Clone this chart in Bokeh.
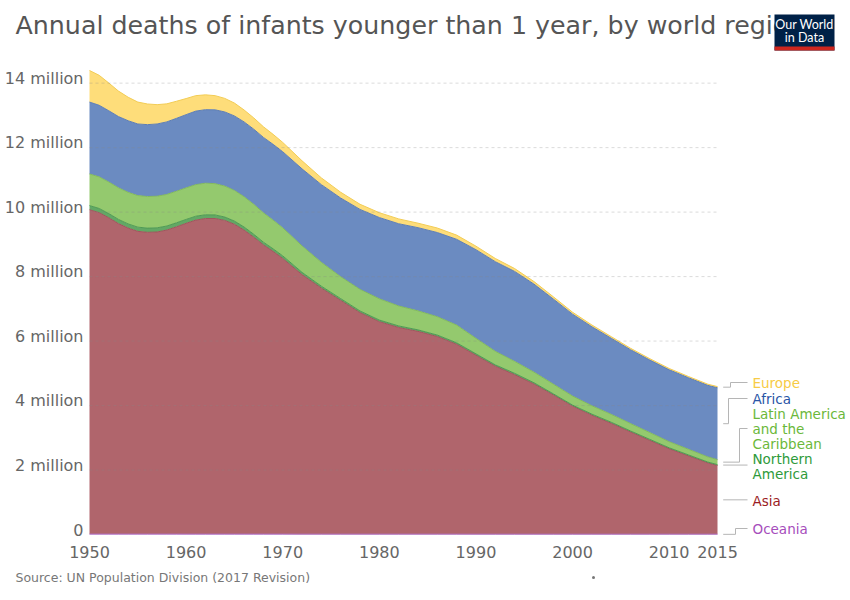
from bokeh.plotting import figure
from bokeh.models import ColumnDataSource, Range1d
from bokeh.core.properties import value
from bokeh.embed import file_html
from bokeh.resources import INLINE

# data (million infant deaths)
years = [1950, 1951, 1952, 1953, 1954, 1955, 1956, 1957, 1958, 1959, 1960,
         1961, 1962, 1963, 1964, 1965, 1966, 1967, 1968, 1969, 1970,
         1972, 1974, 1976, 1978, 1980, 1982, 1984, 1986, 1988, 1990,
         1992, 1994, 1996, 1998, 2000, 2002, 2004, 2006, 2008, 2010,
         2012, 2014, 2015]
oceania = [0.013, 0.013, 0.013, 0.013, 0.013, 0.013, 0.013, 0.013, 0.013, 0.013, 0.012,
           0.012, 0.012, 0.012, 0.012, 0.012, 0.012, 0.012, 0.012, 0.012, 0.012,
           0.011, 0.011, 0.011, 0.011, 0.011, 0.011, 0.011, 0.011, 0.011, 0.010,
           0.010, 0.010, 0.010, 0.010, 0.010, 0.010, 0.010, 0.010, 0.010, 0.010,
           0.010, 0.010, 0.010]
asia = [10.06, 9.97, 9.81, 9.63, 9.49, 9.39, 9.36, 9.37, 9.43, 9.53, 9.64,
        9.74, 9.79, 9.79, 9.73, 9.61, 9.43, 9.21, 8.97, 8.77, 8.55,
        8.05, 7.63, 7.25, 6.87, 6.59, 6.41, 6.29, 6.13, 5.89, 5.55,
        5.21, 4.95, 4.66, 4.32, 3.97, 3.69, 3.44, 3.17, 2.91, 2.65,
        2.43, 2.21, 2.13]
northern_america = [0.13, 0.13, 0.13, 0.13, 0.13, 0.13, 0.13, 0.13, 0.125, 0.125, 0.12,
                    0.12, 0.115, 0.11, 0.105, 0.10, 0.095, 0.09, 0.085, 0.08, 0.08,
                    0.07, 0.06, 0.055, 0.052, 0.05, 0.048, 0.046, 0.045, 0.045, 0.044,
                    0.042, 0.04, 0.037, 0.035, 0.034, 0.033, 0.032, 0.031, 0.03, 0.029,
                    0.028, 0.027, 0.027]
latin_america = [0.98, 0.98, 0.98, 0.98, 0.98, 0.98, 0.98, 0.98, 0.98, 0.98, 0.98,
                 0.98, 0.98, 0.97, 0.96, 0.95, 0.94, 0.93, 0.91, 0.89, 0.87,
                 0.82, 0.74, 0.68, 0.67, 0.66, 0.62, 0.59, 0.57, 0.55, 0.48,
                 0.42, 0.37, 0.33, 0.30, 0.28, 0.26, 0.245, 0.23, 0.21, 0.19,
                 0.175, 0.16, 0.155]
africa = [2.23, 2.22, 2.21, 2.21, 2.22, 2.22, 2.23, 2.24, 2.25, 2.26, 2.27,
          2.28, 2.28, 2.29, 2.30, 2.31, 2.32, 2.33, 2.34, 2.35, 2.36,
          2.39, 2.41, 2.44, 2.48, 2.52, 2.55, 2.58, 2.61, 2.66, 2.75,
          2.78, 2.79, 2.73, 2.64, 2.54, 2.45, 2.36, 2.29, 2.25, 2.23,
          2.22, 2.22, 2.23]
europe = [0.98, 0.93, 0.86, 0.79, 0.73, 0.68, 0.64, 0.60, 0.56, 0.53, 0.50,
          0.48, 0.46, 0.44, 0.42, 0.40, 0.37, 0.35, 0.33, 0.31, 0.29,
          0.25, 0.21, 0.18, 0.16, 0.15, 0.15, 0.14, 0.14, 0.13, 0.11,
          0.10, 0.09, 0.08, 0.07, 0.06, 0.055, 0.05, 0.045, 0.042, 0.04,
          0.037, 0.035, 0.035]

regions = ["oceania", "asia", "northern_america", "latin_america", "africa", "europe"]
fills = ["#C592D2", "#B0656C", "#62A865", "#94C96E", "#6B8BC1", "#FEDD7A"]
edges = ["#B070C4", "#A0545C", "#4F9A53", "#82BA5C", "#5C7DB5", "#F2CC55"]

# legend text, one entry per printed line
label_lines = ["Europe", "Africa", "Latin America", "and the", "Caribbean",
               "Northern", "America", "Asia", "Oceania"]
label_line_colors = ["#F7CB45", "#2A55A6", "#6BB83A", "#6BB83A", "#6BB83A",
                     "#2E9A3A", "#2E9A3A", "#9B1C24", "#A64DBC"]

y_ticks = [0, 2, 4, 6, 8, 10, 12, 14]
y_tick_labels = ["0", "2 million", "4 million", "6 million", "8 million",
                 "10 million", "12 million", "14 million"]
x_ticks = [1950, 1960, 1970, 1980, 1990, 2000, 2010, 2015]

title = "Annual deaths of infants younger than 1 year, by world region"
source_note = "Source: UN Population Division (2017 Revision)"

# canvas geometry in pixels: 1950 sits at x=89, 2015 at x=717, zero at y=534
W, H = 850, 600
ppy = 628 / 65.0      # pixels per year
ppm = 32.24           # pixels per million
x0 = 1950 - 89 / ppy
y_base = 534


def gx(cx):
    return x0 + cx / ppy


def gy(cy):
    return (y_base - cy) / ppm


p = figure(width=W, height=H, output_backend="svg", toolbar_location=None,
           x_range=Range1d(start=gx(0), end=gx(W)), y_range=Range1d(start=gy(H), end=gy(0)),
           min_border=0)
p.xaxis.visible = False
p.yaxis.visible = False
p.xgrid.visible = False
p.ygrid.visible = False
p.outline_line_color = None

src = ColumnDataSource(dict(year=years, oceania=oceania, asia=asia,
                            northern_america=northern_america,
                            latin_america=latin_america, africa=africa,
                            europe=europe))

p.varea_stack(stackers=regions, x="year", color=fills, source=src)
p.vline_stack(stackers=regions, x="year", color=edges, line_width=1, source=src)

# grid lines over the areas
p.multi_line(xs=[[years[0], years[-1]] for t in y_ticks[1:]],
             ys=[[t, t] for t in y_ticks[1:]],
             line_color="#888888", line_alpha=0.3, line_width=1, line_dash="3 3")

font = value("DejaVu Sans")

# y tick labels
p.text(x=[gx(83)] * len(y_ticks), y=[t + 5 / ppm for t in y_ticks], text=y_tick_labels,
       text_font=font, text_font_size="16px", text_color="#666666",
       text_align="right", text_baseline="middle")

# x tick labels
p.text(x=x_ticks, y=[gy(551)] * len(x_ticks), text=[str(t) for t in x_ticks],
       text_font=font, text_font_size="16px", text_color="#666666",
       text_align="center", text_baseline="middle")

# title (the logo is drawn over its end, as in the original)
p.text(x=[gx(15)], y=[gy(25)], text=[title], text_font=font, text_font_size="25.3px",
       text_color="#555555", text_align="left", text_baseline="middle")

# logo
p.quad(left=[gx(774)], right=[gx(834)], top=[gy(14)], bottom=[gy(50)],
       fill_color="#002147", line_color=None)
p.quad(left=[gx(774)], right=[gx(834)], top=[gy(46)], bottom=[gy(50)],
       fill_color="#CE261E", line_color=None)
p.text(x=[gx(804), gx(804)], y=[gy(24), gy(37)], text=["Our World", "in Data"],
       text_font=value("Lato"), text_font_size="12.5px", text_color="white",
       text_align="center", text_baseline="middle")

# source
p.text(x=[gx(15)], y=[gy(577)], text=[source_note], text_font=font,
       text_font_size="12.5px", text_color="#777777",
       text_align="left", text_baseline="middle")
p.scatter(x=[gx(593)], y=[gy(577)], size=3, marker="circle",
          fill_color="#777777", line_color=None)

# end-of-line connectors: from the middle of each band at 2015 to its label
last = [oceania[-1], asia[-1], northern_america[-1], latin_america[-1], africa[-1], europe[-1]]
mids = []
acc = 0.0
for v in last:
    mids.append(acc + v / 2)
    acc += v
label_cy = [528, 500, 465.5, 428, 398, 382]
bend_cx = [735, None, None, 739, 728, 730]
xs, ys = [], []
for m, lc, b in zip(mids, label_cy, bend_cx):
    ly = gy(lc)
    if b is None:
        xs.append([gx(722.7), gx(747)])
        ys.append([m, m])
    else:
        xs.append([gx(722.7), gx(b), gx(b), gx(747)])
        ys.append([m, m, ly, ly])
p.multi_line(xs=xs, ys=ys, line_color="#B5B5B5", line_width=1)

line_cy = [382, 398, 413, 428, 443, 458, 473, 500, 528]
p.text(x=[gx(752)] * len(label_lines), y=[gy(c) for c in line_cy], text=label_lines,
       text_font=font, text_font_size="13.5px", text_color=label_line_colors,
       text_align="left", text_baseline="middle")

open("out.html", "w", encoding="utf-8").write(file_html(p, INLINE))
